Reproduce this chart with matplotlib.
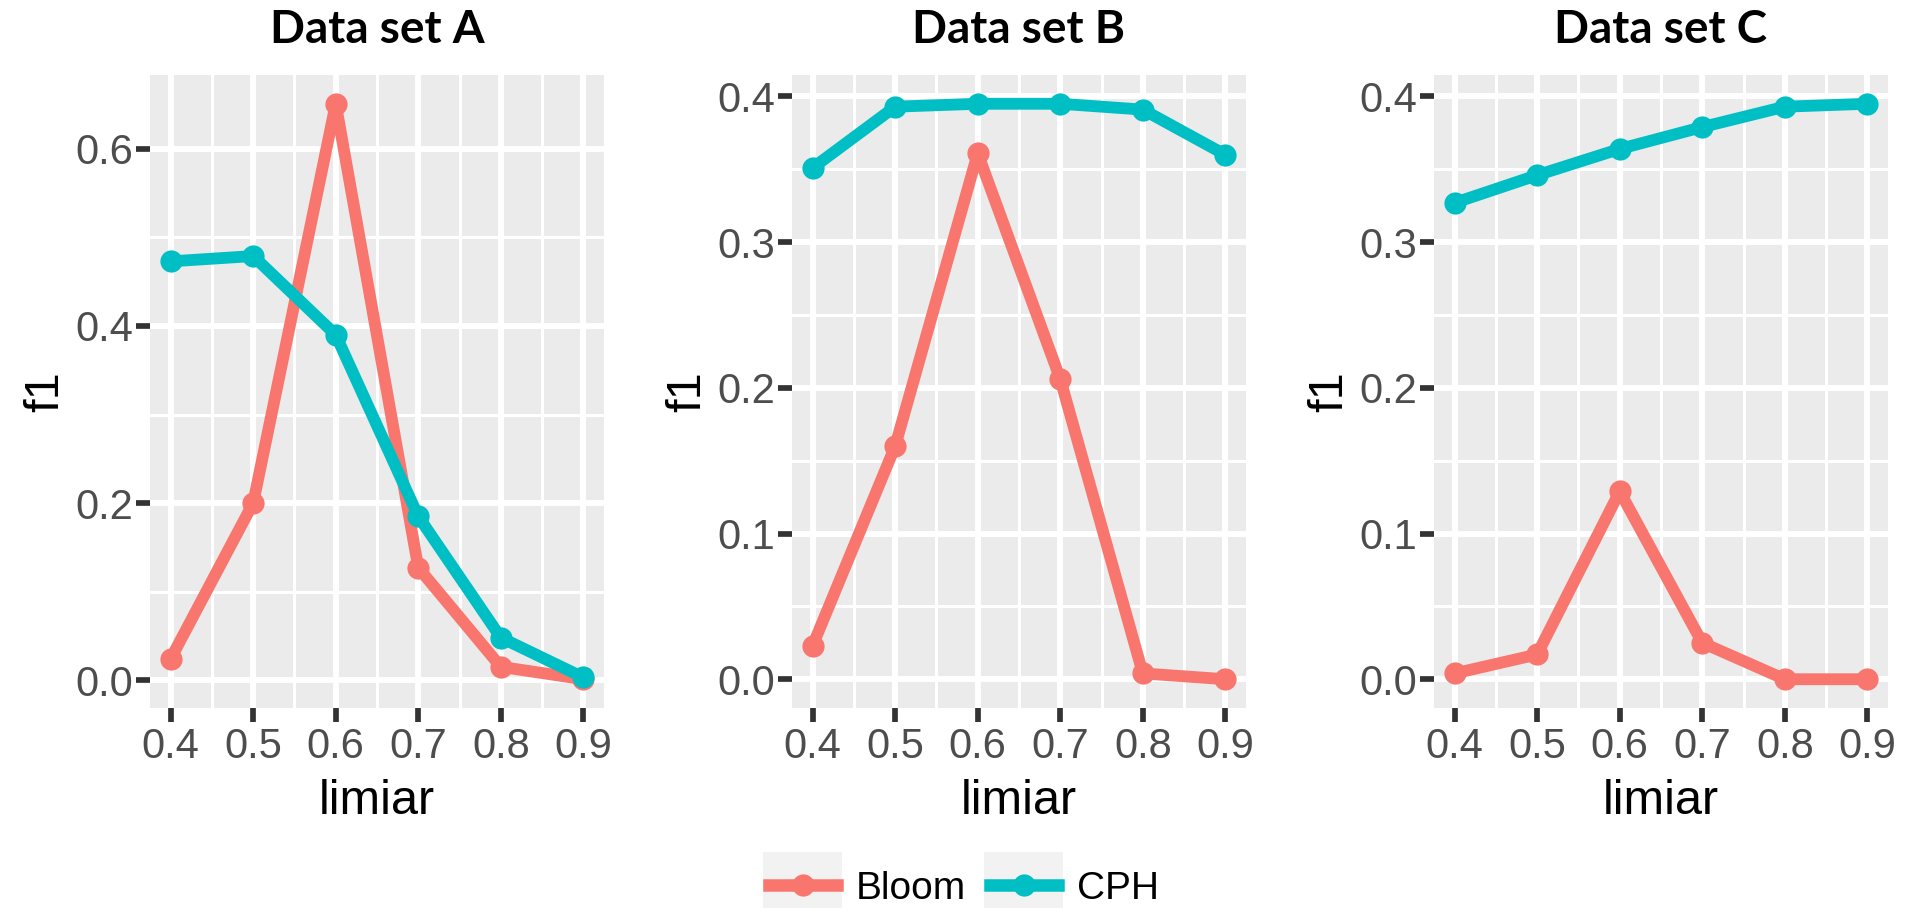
import numpy as np
import matplotlib
matplotlib.use("Agg")
import matplotlib.pyplot as plt
from matplotlib.patches import Rectangle
from matplotlib.legend_handler import HandlerLine2D
from matplotlib.ticker import MultipleLocator, FormatStrFormatter

plt.rcParams['font.family'] = ['Liberation Sans', 'DejaVu Sans']

# data
limiar = [0.4, 0.5, 0.6, 0.7, 0.8, 0.9]
titles = ["Data set A", "Data set B", "Data set C"]
series_names = ["Bloom", "CPH"]

bloom_a = [0.024, 0.200, 0.651, 0.127, 0.015, 0.001]
cph_a = [0.473, 0.479, 0.390, 0.185, 0.048, 0.003]
bloom_b = [0.023, 0.160, 0.361, 0.206, 0.004, 0.000]
cph_b = [0.351, 0.393, 0.395, 0.395, 0.391, 0.360]
bloom_c = [0.004, 0.017, 0.129, 0.025, 0.000, 0.000]
cph_c = [0.327, 0.346, 0.364, 0.379, 0.393, 0.395]

y_major = [0.2, 0.1, 0.1]

colors = ["#F8766D", "#00BFC4"]
panel_bg = "#EBEBEB"


class KeyHandler(HandlerLine2D):
    ''' ggplot-like legend key: grey square behind line + point '''
    def create_artists(self, legend, orig_handle, xdescent, ydescent,
                       width, height, fontsize, trans):
        arts = super().create_artists(legend, orig_handle, xdescent, ydescent,
                                      width, height, fontsize, trans)
        ext = 4
        boxh = 48
        bg = Rectangle((-xdescent - ext, -ydescent + height / 2 - boxh / 2),
                       width + 2 * ext, boxh, facecolor="#F2F2F2",
                       edgecolor="none", transform=trans)
        return [bg] + list(arts)


fig = plt.figure(figsize=(19.06, 9.08), dpi=100)
lefts = [150, 792, 1434]
W, H = 1906, 908

panels = [(bloom_a, cph_a), (bloom_b, cph_b), (bloom_c, cph_c)]
handles = []
for i, (bloom, cph) in enumerate(panels):
    ax = fig.add_axes([lefts[i] / W, 1 - 708 / H, 454 / W, 633 / H])
    ax.set_facecolor(panel_bg)
    for s in ax.spines.values():
        s.set_visible(False)

    # lines first, then points (ggplot layer order)
    for vals, c in zip([bloom, cph], colors):
        ax.plot(limiar, vals, color=c, lw=8.5, solid_capstyle='butt', zorder=3)
    for vals, c, name in zip([bloom, cph], colors, series_names):
        ax.plot(limiar, vals, color=c, marker='o', markersize=16,
                markeredgewidth=0, linestyle='none', zorder=4)
        if i == 0:
            handles.append(ax.plot([], [], color=c, lw=9, marker='o',
                                   markersize=16, markeredgewidth=0,
                                   label=name)[0])

    ax.margins(x=0.05, y=0.05)
    ax.xaxis.set_major_locator(MultipleLocator(0.1))
    ax.xaxis.set_minor_locator(MultipleLocator(0.05))
    ax.yaxis.set_major_locator(MultipleLocator(y_major[i]))
    ax.yaxis.set_minor_locator(MultipleLocator(y_major[i] / 2))
    ax.xaxis.set_major_formatter(FormatStrFormatter('%.1f'))
    ax.yaxis.set_major_formatter(FormatStrFormatter('%.1f'))

    ax.grid(which='major', color='white', lw=4.3, zorder=0)
    ax.grid(which='minor', color='white', lw=2.2, zorder=0)
    ax.set_axisbelow(True)
    ax.tick_params(which='major', length=10, width=4.1, color='#333333',
                   labelsize=30, labelcolor='#4D4D4D')
    ax.tick_params(axis='x', pad=4)
    ax.tick_params(axis='y', pad=2)
    ax.tick_params(which='minor', length=0)

    ax.set_xlabel("limiar", fontsize=35, labelpad=8)
    ax.set_ylabel("f1", fontsize=35, labelpad=5)
    ax.set_title(titles[i], fontsize=33, fontweight='bold',
                 family=['Lato', 'DejaVu Sans'], pad=23)

fig.legend(handles=handles, loc='center', bbox_to_anchor=(964 / W, 1 - 889 / H),
           ncol=2, frameon=False, fontsize=28, handlelength=1.75,
           handletextpad=0.5, columnspacing=0.6, numpoints=1,
           handler_map={h: KeyHandler() for h in handles})

fig.savefig("out.png", dpi=100, facecolor='white')
